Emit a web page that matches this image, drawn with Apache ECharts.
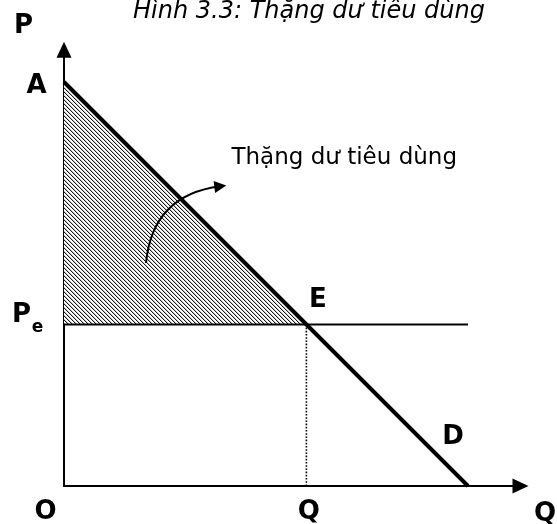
<!DOCTYPE html>
<html>
<head>
<meta charset="utf-8">
<script src="https://cdn.jsdelivr.net/npm/echarts@6/dist/echarts.min.js"></script>
<style>
  html, body { margin: 0; padding: 0; background: #fff; }
  #chart { width: 557px; height: 524px; }
</style>
</head>
<body>
<div id="chart"></div>
<script>
const titleText = 'Hình 3.3: Thặng dư tiêu dùng'
const surplusText = 'Thặng dư tiêu dùng'

// demand curve and equilibrium, in (Q, P) units
const demandLine = [[0, 10], [10, 0]]
const priceLine = [[0, 4], [10, 4]]
const qtyLine = [[6, 0], [6, 4]]
const surplusEdge = [[0, 10], [6, 4]]
const arrowPath = [[2.03, 5.52], [3.87, 7.42]]
const pricePe = 4

// letters and where they belong
const labelNames = ['P', 'A', 'P', 'e', 'E', 'D', 'O', 'Q', 'Q', surplusText]
const labelPoints = [[0, 10.8], [0, 10], [0, 4], [0, 4], [6, 4], [9, 1], [0, 0], [6, 0], [11.3, 0], [4.01, 7.43]]

// pixel nudges for each label (style only)
const labelOffsets = [[-40, -23], [-27, 5], [-42, -9], [-26, 4], [12, -24], [26, -8], [-18, 27], [3, 27], [25, 29], [6, -27]]

function makeHatch() {
  let c = document.createElement('canvas')
  c.width = 4
  c.height = 4
  let ctx = c.getContext('2d')
  ctx.fillStyle = '#fff'
  ctx.fillRect(0, 0, 4, 4)
  for (let i = 0; i < 4; i++) {
    ctx.fillStyle = '#1a1a1a'
    ctx.fillRect(i, i, 1, 1)
    ctx.fillStyle = '#c4c4c4'
    ctx.fillRect((i + 1) % 4, i, 1, 1)
  }
  return c
}

function labelStyle(name, i) {
  let base = {
    show: true,
    position: [0, 0],
    align: 'center',
    verticalAlign: 'middle',
    offset: labelOffsets[i],
    formatter: name,
    color: '#000',
    opacity: 1,
    textBorderWidth: 0,
    fontFamily: 'DejaVu Sans',
    fontWeight: 'bold',
    fontSize: 26
  }
  if (name === 'e') {
    base.fontSize = 17
  }
  if (name === surplusText) {
    base.fontWeight = 'normal'
    base.fontSize = 23
    base.align = 'left'
  }
  return base
}

let chart = echarts.init(document.getElementById('chart'))
chart.setOption({
  animation: false,
  backgroundColor: '#fff',
  title: {
    text: titleText,
    left: 309,
    top: 0,
    textAlign: 'center',
    padding: 0,
    textStyle: {
      fontFamily: 'DejaVu Sans',
      fontStyle: 'italic',
      fontWeight: 'normal',
      fontSize: 24,
      color: '#000'
    }
  },
  grid: {
    left: 64,
    right: 36.5,
    top: 49.7,
    bottom: 38
  },
  xAxis: {
    type: 'value',
    min: 0,
    max: 11.3,
    axisLine: {
      show: true,
      symbol: ['none', 'triangle'],
      symbolSize: [15, 16],
      lineStyle: { color: '#000', width: 2 }
    },
    axisTick: { show: false },
    axisLabel: { show: false },
    splitLine: { show: false }
  },
  yAxis: {
    type: 'value',
    min: 0,
    max: 10.8,
    axisLine: {
      show: true,
      symbol: ['none', 'triangle'],
      symbolSize: [15, 16],
      lineStyle: { color: '#000', width: 2 }
    },
    axisTick: { show: false },
    axisLabel: { show: false },
    splitLine: { show: false }
  },
  series: [
    {
      type: 'line',
      data: surplusEdge,
      symbol: 'none',
      lineStyle: { width: 0 },
      areaStyle: {
        origin: pricePe,
        opacity: 1,
        color: { image: makeHatch(), repeat: 'repeat' }
      },
      z: 1
    },
    {
      type: 'line',
      data: qtyLine,
      symbol: 'none',
      lineStyle: { color: '#000', width: 1.6, type: [1.6, 1.6] },
      z: 2
    },
    {
      type: 'line',
      data: priceLine,
      symbol: 'none',
      lineStyle: { color: '#000', width: 2 },
      z: 3
    },
    {
      type: 'line',
      data: demandLine,
      symbol: 'none',
      lineStyle: { color: '#000', width: 4 },
      z: 4
    },
    {
      type: 'lines',
      coordinateSystem: 'cartesian2d',
      symbol: ['none', 'triangle'],
      symbolSize: 12,
      lineStyle: { color: '#000', width: 2, curveness: 0.4, opacity: 1 },
      data: [{ coords: arrowPath }],
      z: 5
    },
    {
      type: 'scatter',
      clip: false,
      symbolSize: 1,
      itemStyle: { color: 'transparent', opacity: 1 },
      data: labelNames.map(function (name, i) {
        return { value: labelPoints[i], label: labelStyle(name, i) }
      }),
      z: 6
    }
  ]
})
</script>
</body>
</html>
